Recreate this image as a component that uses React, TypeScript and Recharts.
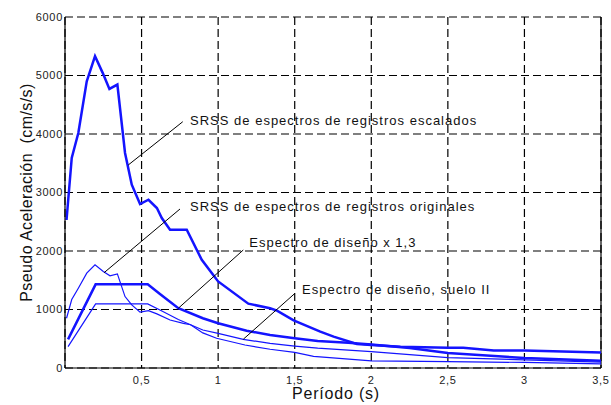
import { LineChart, Line, XAxis, YAxis, CartesianGrid, ReferenceLine, ReferenceDot } from 'recharts'

// Período (s) vs pseudo aceleración (cm/s/s)
const escaladosT = [0.01, 0.044, 0.087, 0.142, 0.196, 0.246, 0.29, 0.342, 0.392, 0.436, 0.49, 0.545, 0.6, 0.632, 0.686, 0.795, 0.893, 0.968, 1.0, 1.197, 1.339, 1.384, 1.493, 1.667, 1.754, 1.906, 2.0, 2.19, 2.5, 2.6, 2.8, 3.0, 3.5]
const escaladosA = [2530, 3590, 4018, 4902, 5330, 5045, 4771, 4845, 3675, 3133, 2802, 2876, 2734, 2563, 2363, 2363, 1849, 1590, 1480, 1100, 1020, 980, 815, 622, 536, 411, 394, 365, 345, 345, 300, 300, 265]

const originalesT = [0.01, 0.044, 0.087, 0.142, 0.196, 0.25, 0.294, 0.342, 0.392, 0.436, 0.49, 0.545, 0.6, 0.686, 0.773, 0.82, 0.9, 0.99, 1.175, 1.339, 1.5, 1.623, 2.0, 2.5, 3.0, 3.5]
const originalesA = [850, 1170, 1364, 1621, 1763, 1649, 1575, 1609, 1221, 1079, 955, 980, 925, 820, 764, 740, 600, 508, 393, 320, 268, 200, 122, 110, 95, 72]

const diseno13T = [0.02, 0.2, 0.54, 0.62, 0.74, 0.9, 1.0, 1.186, 1.339, 1.5, 1.65, 1.85, 2.0, 2.25, 2.5, 3.0, 3.5]
const diseno13A = [490, 1430, 1430, 1265, 1021, 850, 765, 638, 564, 510, 460, 430, 400, 340, 255, 170, 125]

const disenoT = [0.02, 0.2, 0.54, 0.62, 0.74, 0.9, 1.0, 1.164, 1.339, 1.5, 1.65, 2.0, 2.5, 3.0, 3.5]
const disenoA = [365, 1096, 1096, 990, 830, 650, 592, 490, 420, 375, 340, 280, 178, 140, 100]

const xTicks = [0.5, 1, 1.5, 2, 2.5, 3, 3.5]
const xTickLabels = ['0,5', '1', '1,5', '2', '2,5', '3', '3,5']
const yTicks = [0, 1000, 2000, 3000, 4000, 5000, 6000]

// annotation texts and leader lines (data coordinates)
const notes = [
  { text: 'SRSS de espectros de registros escalados', at: [0.784, 4232], from: [0.769, 4210], to: [0.413, 3470] },
  { text: 'SRSS de espectros de registros originales', at: [0.784, 2762], from: [0.751, 2718], to: [0.255, 1629] },
  { text: 'Espectro de diseño x 1,3', at: [1.171, 2152], from: [1.164, 2017], to: [0.74, 1021] },
  { text: 'Espectro de diseño, suelo II', at: [1.515, 1344], from: [1.502, 1277], to: [1.164, 491] },
]

const toPts = (t: number[], a: number[]) => t.map((x, i) => ({ x, y: a[i] }))

const font = '"Liberation Sans", Arial, sans-serif'
const blue = '#1414ff'

export default function App() {
  const tick = { fill: '#222', fontSize: 11, letterSpacing: 0.7, fontFamily: font }
  return (
    <div style={{ position: 'absolute', left: 0, top: 0, width: 611, height: 405, background: '#fff', fontFamily: font }}>
      <LineChart width={611} height={405} margin={{ top: 17, right: 10, bottom: 7, left: 0 }}>
        <CartesianGrid stroke="#000" strokeWidth={1.2} strokeDasharray="8 4" />
        <XAxis
          dataKey="x"
          type="number"
          domain={[0, 3.5]}
          ticks={xTicks}
          tickFormatter={(v: number) => xTickLabels[xTicks.indexOf(v)] ?? ''}
          tick={tick}
          tickLine={false}
          tickSize={0}
          tickMargin={8}
          height={30}
          axisLine={{ stroke: '#000', strokeWidth: 1.2 }}
          allowDataOverflow
          label={{ value: 'Período (s)', position: 'insideBottom', offset: -1, dx: 3, fontSize: 16, fill: '#111', style: { letterSpacing: 0.8, fontFamily: font } }}
        />
        <YAxis
          type="number"
          domain={[0, 6000]}
          ticks={yTicks}
          tick={tick}
          tickLine={false}
          tickSize={0}
          tickMargin={2}
          width={65}
          axisLine={{ stroke: '#000', strokeWidth: 1.2 }}
          label={{ value: 'Pseudo Aceleración\u00a0 (cm/s/s)', angle: -90, position: 'insideLeft', offset: 26, fontSize: 16, fill: '#111', style: { textAnchor: 'middle', letterSpacing: 0.4, fontFamily: font } }}
        />
        <ReferenceLine x={3.5} stroke="#000" strokeWidth={1.2} />
        <Line data={toPts(originalesT, originalesA)} dataKey="y" type="linear" stroke={blue} strokeWidth={1.2} dot={false} isAnimationActive={false} />
        <Line data={toPts(disenoT, disenoA)} dataKey="y" type="linear" stroke={blue} strokeWidth={1.2} dot={false} isAnimationActive={false} />
        <Line data={toPts(diseno13T, diseno13A)} dataKey="y" type="linear" stroke={blue} strokeWidth={2.5} dot={false} isAnimationActive={false} />
        <Line data={toPts(escaladosT, escaladosA)} dataKey="y" type="linear" stroke={blue} strokeWidth={2.5} dot={false} isAnimationActive={false} />
        {notes.map(n => (
          <ReferenceLine
            key={'l' + n.text}
            segment={[{ x: n.from[0], y: n.from[1] }, { x: n.to[0], y: n.to[1] }]}
            stroke="#000"
            strokeWidth={1}
          />
        ))}
        {notes.map(n => (
          <ReferenceDot
            key={'t' + n.text}
            x={n.at[0]}
            y={n.at[1]}
            r={0}
            fill="none"
            stroke="none"
            label={{ value: n.text, position: 'right', offset: 5, fontSize: 13, fill: '#111', style: { letterSpacing: 1, fontFamily: font } }}
          />
        ))}
      </LineChart>
    </div>
  )
}
